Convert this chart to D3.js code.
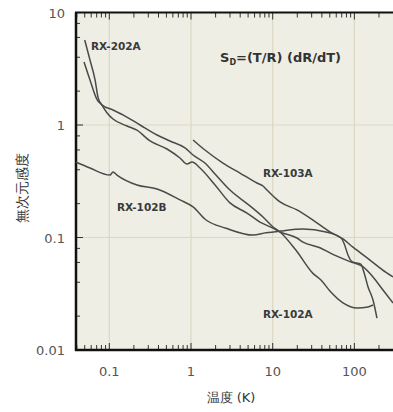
<!DOCTYPE html>
<html>
<head>
<meta charset="utf-8">
<script src="https://cdn.jsdelivr.net/npm/d3@7"></script>
<style>
  body { margin: 0; background: #fff; }
  text { font-family: "DejaVu Sans", sans-serif; }
</style>
</head>
<body>
<div id="graph-container"></div>
<script>
// Data (temperature in K, dimensionless sensitivity)
const rx202aT = [0.050, 0.058, 0.067, 0.073, 0.081, 0.094, 0.111, 0.165, 0.218, 0.315, 0.508, 0.733, 0.893, 1.03, 1.29, 1.97, 3.00, 4.84, 6.99, 10.1, 12.3, 19.8, 23.5, 37.9, 50.2, 88.3, 127, 169, 224, 297];
const rx202aS = [5.70, 3.78, 2.51, 1.74, 1.51, 1.28, 1.13, 0.98, 0.90, 0.721, 0.612, 0.509, 0.450, 0.469, 0.415, 0.293, 0.203, 0.165, 0.137, 0.121, 0.112, 0.099, 0.091, 0.081, 0.073, 0.061, 0.055, 0.0446, 0.0341, 0.0262];

const rx102aT = [0.049, 0.058, 0.071, 0.081, 0.111, 0.147, 0.238, 0.384, 0.553, 0.845, 1.06, 1.48, 2.02, 3.00, 5.27, 7.61, 10.1, 12.3, 19.3, 31.1, 39.0, 50.2, 72.5, 108, 147, 169];
const rx102aS = [3.63, 2.51, 1.67, 1.51, 1.36, 1.23, 1.0, 0.815, 0.721, 0.625, 0.541, 0.459, 0.359, 0.264, 0.191, 0.152, 0.124, 0.112, 0.077, 0.048, 0.0419, 0.0334, 0.0262, 0.0236, 0.0241, 0.0251];

const rx102bT = [0.039, 0.058, 0.102, 0.111, 0.124, 0.218, 0.384, 0.733, 1.06, 1.53, 2.68, 5.74, 8.28, 12.3, 23.5, 44.9, 68.5, 74.6, 83.5, 93.5, 120, 131, 147, 169, 189];
const rx102bS = [0.469, 0.415, 0.359, 0.382, 0.359, 0.293, 0.270, 0.216, 0.187, 0.143, 0.121, 0.105, 0.110, 0.114, 0.119, 0.112, 0.099, 0.089, 0.070, 0.061, 0.058, 0.049, 0.0363, 0.0278, 0.0192];

const rx103aT = [1.06, 1.48, 2.46, 3.98, 6.43, 7.61, 8.51, 9.80, 12.3, 19.8, 31.1, 50.2, 72.5, 96.2, 155, 244, 297];
const rx103aS = [0.736, 0.599, 0.459, 0.374, 0.305, 0.287, 0.264, 0.239, 0.207, 0.176, 0.143, 0.112, 0.097, 0.082, 0.063, 0.049, 0.0446];

const xTickValues = [0.1, 1, 10, 100];
const xTickLabels = ["0.1", "1", "10", "100"];
const yTickValues = [0.01, 0.1, 1, 10];
const yTickLabels = ["0.01", "0.1", "1", "10"];

// Curve labels: [name, T, S] at the start of the label baseline
const curveLabels = [
    ["RX-202A", 0.0597, 4.64],
    ["RX-103A", 7.6, 0.345],
    ["RX-102B", 0.124, 0.172],
    ["RX-102A", 7.6, 0.0192]
];

// Chart dimensions and margins
const W = 393, H = 412;
const margin = { top: 12.5, right: 0, bottom: 62, left: 76 };
const width = W - margin.left - margin.right;
const height = H - margin.top - margin.bottom;

const x = d3.scaleLog()
    .domain([0.0391, 297])
    .range([0, width]);

const y = d3.scaleLog()
    .domain([0.01, 10])
    .range([height, 0]);

const svg = d3.select("#graph-container")
    .append("svg")
        .attr("width", W)
        .attr("height", H)
    .append("g")
        .attr("transform", `translate(${margin.left},${margin.top})`);

// Plot background
svg.append("rect")
    .attr("width", width)
    .attr("height", height)
    .attr("fill", "#eeeee5");

// Gridlines at decades
svg.append("g")
    .selectAll("line")
    .data(xTickValues)
    .join("line")
        .attr("x1", d => x(d)).attr("x2", d => x(d))
        .attr("y1", 0).attr("y2", height)
        .attr("stroke", "#dcd7c2")
        .attr("stroke-width", 1.2);

svg.append("g")
    .selectAll("line")
    .data([0.1, 1])
    .join("line")
        .attr("x1", 0).attr("x2", width)
        .attr("y1", d => y(d)).attr("y2", d => y(d))
        .attr("stroke", "#dcd7c2")
        .attr("stroke-width", 1.2);

// Minor ticks (2..9 for x, 2,4,6,8 for y) pointing inward
const xMinor = [];
[0.01, 0.1, 1, 10, 100].forEach(dec => {
    for (let k = 2; k <= 9; k++) {
        const v = dec * k;
        if (v >= 0.0391 && v <= 297) xMinor.push(v);
    }
});
const yMinor = [];
[0.01, 0.1, 1].forEach(dec => [2, 4, 6, 8].forEach(k => yMinor.push(dec * k)));

const tickColor = "#333";

// bottom ticks
svg.append("g")
    .selectAll("line")
    .data(xMinor)
    .join("line")
        .attr("x1", d => x(d)).attr("x2", d => x(d))
        .attr("y1", height).attr("y2", height - 5)
        .attr("stroke", tickColor);
svg.append("g")
    .selectAll("line")
    .data(xTickValues)
    .join("line")
        .attr("x1", d => x(d)).attr("x2", d => x(d))
        .attr("y1", height).attr("y2", height - 7)
        .attr("stroke", tickColor);

// top ticks
svg.append("g")
    .selectAll("line")
    .data(xMinor)
    .join("line")
        .attr("x1", d => x(d)).attr("x2", d => x(d))
        .attr("y1", 0).attr("y2", 5)
        .attr("stroke", tickColor);
svg.append("g")
    .selectAll("line")
    .data(xTickValues)
    .join("line")
        .attr("x1", d => x(d)).attr("x2", d => x(d))
        .attr("y1", 0).attr("y2", 7)
        .attr("stroke", tickColor);

// left ticks
svg.append("g")
    .selectAll("line")
    .data(yMinor)
    .join("line")
        .attr("x1", 0).attr("x2", 4)
        .attr("y1", d => y(d)).attr("y2", d => y(d))
        .attr("stroke", tickColor);
svg.append("g")
    .selectAll("line")
    .data(yTickValues)
    .join("line")
        .attr("x1", 0).attr("x2", 7)
        .attr("y1", d => y(d)).attr("y2", d => y(d))
        .attr("stroke", tickColor);

// Axis frame lines (bottom, left, top)
svg.append("line")
    .attr("x1", -1).attr("x2", width)
    .attr("y1", height).attr("y2", height)
    .attr("stroke", "#111").attr("stroke-width", 2.5);
svg.append("line")
    .attr("x1", -1).attr("x2", width)
    .attr("y1", 0).attr("y2", 0)
    .attr("stroke", "#111").attr("stroke-width", 2);
svg.append("line")
    .attr("x1", 0).attr("x2", 0)
    .attr("y1", 0).attr("y2", height + 1)
    .attr("stroke", "#111").attr("stroke-width", 2.5);

// Tick labels
svg.append("g")
    .selectAll("text")
    .data(xTickValues)
    .join("text")
        .attr("x", d => x(d))
        .attr("y", height + 26)
        .attr("text-anchor", "middle")
        .attr("font-size", 13)
        .attr("fill", "#555")
        .text((d, i) => xTickLabels[i]);

svg.append("g")
    .selectAll("text")
    .data(yTickValues)
    .join("text")
        .attr("x", -11)
        .attr("y", d => y(d) + 5)
        .attr("text-anchor", "end")
        .attr("font-size", 13)
        .attr("fill", "#555")
        .text((d, i) => yTickLabels[i]);

// Axis titles
svg.append("text")
    .attr("x", 231 - margin.left)
    .attr("y", 402 - margin.top)
    .attr("text-anchor", "middle")
    .attr("font-family", "'Noto Sans CJK JP', sans-serif")
    .attr("font-size", 13)
    .attr("fill", "#333")
    .text("温度 (K)");

svg.append("text")
    .attr("transform", `translate(${27 - margin.left},${188 - margin.top}) rotate(-90)`)
    .attr("text-anchor", "middle")
    .attr("font-family", "'Noto Sans CJK JP', sans-serif")
    .attr("font-size", 14)
    .attr("fill", "#333")
    .text("無次元感度");

// Curves
const series = [
    [rx202aT, rx202aS],
    [rx102aT, rx102aS],
    [rx102bT, rx102bS],
    [rx103aT, rx103aS]
];

const line = d3.line()
    .x(d => x(d[0]))
    .y(d => y(d[1]))
    .curve(d3.curveMonotoneX);

svg.append("g")
    .selectAll("path")
    .data(series.map(([t, s]) => t.map((v, i) => [v, s[i]])))
    .join("path")
        .attr("fill", "none")
        .attr("stroke", "#4a4a4a")
        .attr("stroke-width", 1.5)
        .attr("d", line);

// Curve labels
svg.append("g")
    .selectAll("text")
    .data(curveLabels)
    .join("text")
        .attr("x", d => x(d[1]))
        .attr("y", d => y(d[2]))
        .attr("font-size", 10.5)
        .attr("font-weight", "bold")
        .attr("fill", "#3a3a3a")
        .text(d => d[0]);

// Formula
const formula = svg.append("text")
    .attr("x", 220 - margin.left)
    .attr("y", 62 - margin.top)
    .attr("font-size", 13)
    .attr("font-weight", "bold")
    .attr("fill", "#333");
formula.append("tspan").text("S");
formula.append("tspan").attr("font-size", 8).attr("dy", 3).text("D");
formula.append("tspan").attr("dy", -3).text("=(T/R) (dR/dT)");
</script>
</body>
</html>
